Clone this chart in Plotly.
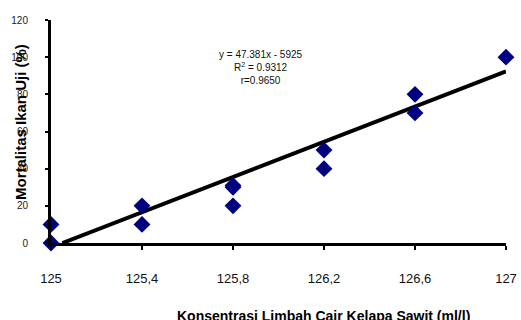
import plotly.graph_objects as go

x_vals = [125, 125, 125.4, 125.4, 125.8, 125.8, 125.8, 126.2, 126.2, 126.6, 126.6, 127]
y_vals = [0, 10, 20, 10, 30, 31, 20, 50, 40, 80, 70, 100]
slope = 47.381
intercept = -5925
trend_x = [125.05, 127]
trend_y = [slope * v + intercept for v in trend_x]
x_ticks = [125, 125.4, 125.8, 126.2, 126.6, 127]
x_tick_labels = ["125", "125,4", "125,8", "126,2", "126,6", "127"]
y_ticks = [0, 20, 40, 60, 80, 100, 120]

fig = go.Figure()
fig.add_trace(go.Scatter(x=trend_x, y=trend_y, mode="lines",
                         line=dict(color="black", width=4), cliponaxis=False, showlegend=False))
fig.add_trace(go.Scatter(x=x_vals, y=y_vals, mode="markers",
                         marker=dict(symbol="diamond", color="#000080", size=13),
                         cliponaxis=False, showlegend=False))

fig.update_layout(
    width=521, height=320,
    margin=dict(l=51, r=15, t=20, b=77, autoexpand=False),
    paper_bgcolor="white", plot_bgcolor="white",
    font=dict(family="Liberation Sans, Arial, sans-serif", color="black"),
    xaxis=dict(range=[125, 127], tickvals=x_ticks, ticktext=x_tick_labels, automargin=False,
               showgrid=False, zeroline=False, showline=True, linecolor="black", linewidth=3,
               ticks="outside", ticklen=4, tickwidth=1.5, tickcolor="black",
               tickfont=dict(size=13, color="#111"), ticklabelstandoff=17),
    yaxis=dict(range=[0, 120], tickvals=y_ticks, automargin=False,
               showgrid=False, zeroline=False, showline=True, linecolor="black", linewidth=3,
               ticks="outside", ticklen=3, tickwidth=1.5, tickcolor="black",
               tickfont=dict(size=10, color="#222"), ticklabelstandoff=15),
    annotations=[
        dict(text="y = 47.381x - 5925<br>R<sup>2</sup> = 0.9312<br>r=0.9650",
             xref="paper", yref="paper", x=(261 - 51) / 455, y=(243 - 47) / 223,
             xanchor="center", yanchor="top", showarrow=False, align="center",
             font=dict(size=10, color="#111")),
        dict(text="<b>Mortalitas Ikan Uji (%)</b>", textangle=-90,
             xref="paper", yref="paper", x=(20 - 51) / 455, y=(243 - 122) / 223,
             xanchor="center", yanchor="middle", showarrow=False,
             font=dict(size=15, color="black")),
        dict(text="<b>Konsentrasi Limbah Cair Kelapa Sawit (ml/l)</b>",
             xref="paper", yref="paper", x=(323 - 51) / 455, y=-(316 - 243) / 223,
             xanchor="center", yanchor="middle", showarrow=False,
             font=dict(size=14, color="black")),
    ],
)
fig.write_html("out.html", config={"displayModeBar": False},
               post_script="document.body.style.margin='0';")
